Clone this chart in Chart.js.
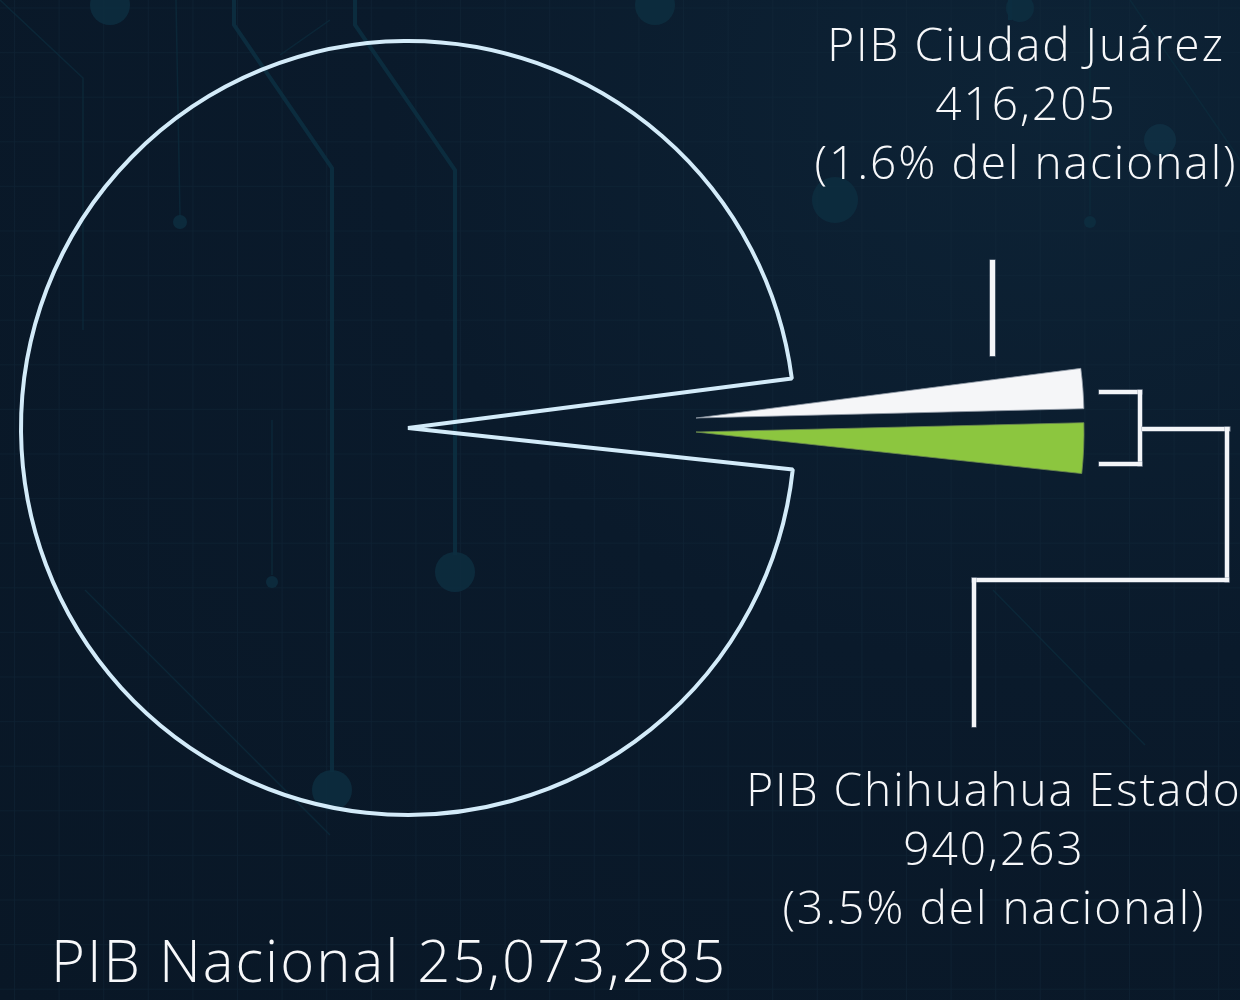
<!DOCTYPE html>
<html>
<head>
<meta charset="utf-8">
<script src="https://cdn.jsdelivr.net/npm/chart.js@4.4.0/dist/chart.umd.min.js"></script>
<style>
  html, body { margin:0; padding:0; width:1240px; height:1000px; overflow:hidden; background:#0a1929; }
  #stage { position:relative; width:1240px; height:1000px; overflow:hidden;
    background: radial-gradient(ellipse at 85% 10%, #0d2336 0%, #0a1a2b 45%, #091726 100%); }
  #bg { position:absolute; left:0; top:0; }
  canvas { position:absolute; }
  .lbl { position:absolute; color:#f7f8fa; font-family:"Open Sans", Lato, sans-serif; font-weight:300;
         text-align:center; white-space:nowrap; letter-spacing:2px; }
  .ln { position:absolute; background:#f3f5f8; box-shadow:0 0 0 0.6px rgba(150,160,172,0.7); }
</style>
</head>
<body>
<div id="stage">
  <svg id="bg" width="1240" height="1000" xmlns="http://www.w3.org/2000/svg">
    <defs>
      <pattern id="grid" x="14" y="7.5" width="44.6" height="44.6" patternUnits="userSpaceOnUse">
        <path d="M0 0 V44.6 M0 0 H44.6" stroke="#10283b" stroke-width="1.6" fill="none" opacity="0.55"/>
      </pattern>
    </defs>
    <rect width="1240" height="1000" fill="url(#grid)"/>
    <g stroke="#0c3143" fill="none" stroke-width="4" opacity="0.8">
      <path d="M234 0 V25 L332 168 V772"/>
      <path d="M355 0 V25 L455 170 V555"/>
      <path d="M1010 0 V20"/>
    </g>
    <g stroke="#0c2c3d" fill="none" stroke-width="1.5" opacity="0.7">
      <path d="M176 0 L180 216"/>
      <path d="M0 0 L83 78 V330"/>
      <path d="M1090 0 V215"/>
      <path d="M272 420 V575"/>
      <path d="M85 590 L330 835"/>
      <path d="M993 590 L1145 745"/>
      <path d="M1130 0 L1240 160"/>
      <path d="M280 55 L330 20"/>
    </g>
    <g fill="#0d2e40" opacity="0.85">
      <circle cx="110" cy="5" r="20"/>
      <circle cx="332" cy="790" r="20"/>
      <circle cx="455" cy="572" r="20"/>
      <circle cx="655" cy="5" r="20"/>
      <circle cx="835" cy="200" r="23"/>
      <circle cx="180" cy="222" r="7"/>
      <circle cx="272" cy="582" r="6"/>
      <circle cx="1090" cy="222" r="6"/>
      <circle cx="1020" cy="8" r="14"/>
    </g>
    <circle cx="1160" cy="140" r="16" fill="#12394d" opacity="0.5"/>
  </svg>

  <canvas id="mainPie" width="1240" height="1000" style="left:0;top:0;width:1240px;height:1000px;"></canvas>
  <canvas id="wedgeJuarez" width="800" height="800" style="left:296px;top:18px;width:800px;height:800px;"></canvas>
  <canvas id="wedgeChih" width="800" height="800" style="left:296px;top:32px;width:800px;height:800px;"></canvas>

  <!-- leader lines / bracket -->
  <div class="ln" style="left:990px;top:260px;width:5px;height:96px;"></div>
  <div class="ln" style="left:1099px;top:390px;width:43px;height:4px;"></div>
  <div class="ln" style="left:1138px;top:390px;width:4px;height:76px;"></div>
  <div class="ln" style="left:1099px;top:462px;width:43px;height:4px;"></div>
  <div class="ln" style="left:1142px;top:427px;width:88px;height:4px;"></div>
  <div class="ln" style="left:1225px;top:427px;width:4px;height:155px;"></div>
  <div class="ln" style="left:972px;top:578px;width:257px;height:4px;"></div>
  <div class="ln" style="left:972px;top:578px;width:4px;height:149px;"></div>

  <div id="lblJuarez" class="lbl" style="left:776px;width:500px;top:14px;font-size:46px;line-height:59px;"></div>
  <div id="lblChih" class="lbl" style="left:744px;width:500px;top:759px;font-size:46px;line-height:59px;"></div>
  <div id="lblNac" class="lbl" style="left:51px;top:929px;font-size:58px;line-height:62px;text-align:left;"></div>
</div>

<script>
// ---- Data ----
const categories = ['PIB Nacional', 'PIB Chihuahua Estado', 'PIB Ciudad Juárez'];
const pibValues  = [25073285, 940263, 416205];
const pctLabels  = ['', '3.5%', '1.6%'];

// ---- derived ----
const nationalRest = pibValues[0] - pibValues[1];
const chihRest = pibValues[1] - pibValues[2];
const shareChih = pibValues[1] / pibValues[0];
const centerAngle = -0.6;                     // direction of exploded slice (deg)
const rotation = centerAngle + 90 - 180 * shareChih;
const fmt = v => v.toLocaleString('en-US');

document.getElementById('lblJuarez').innerHTML =
  categories[2] + '<br>' + fmt(pibValues[2]) + '<br>(' + pctLabels[2] + ' del nacional)';
document.getElementById('lblChih').innerHTML =
  categories[1] + '<br>' + fmt(pibValues[1]) + '<br>(' + pctLabels[1] + ' del nacional)';
document.getElementById('lblNac').textContent = categories[0] + ' ' + fmt(pibValues[0]);

const clear = 'rgba(0,0,0,0)';
const baseOpts = {
  responsive: false,
  animation: false,
  events: [],
  rotation: rotation,
  plugins: { legend: { display: false }, tooltip: { enabled: false } }
};

// National pie (outline, with Chihuahua slice removed)
new Chart(document.getElementById('mainPie'), {
  type: 'pie',
  data: {
    labels: ['Chihuahua', 'Resto nacional'],
    datasets: [{
      data: [pibValues[1], nationalRest],
      backgroundColor: [clear, clear],
      borderColor: [clear, '#d3ebf9'],
      borderWidth: [0, 4],
      clip: false
    }]
  },
  options: Object.assign({}, baseOpts, {
    radius: 387,
    layout: { padding: { left: 0, top: 0, right: 424, bottom: 144 } }
  })
});

function wedge(id, colors, borders) {
  new Chart(document.getElementById(id), {
    type: 'pie',
    data: {
      labels: ['Ciudad Juárez', 'Resto Chihuahua', 'Resto nacional'],
      datasets: [{
        data: [pibValues[2], chihRest, nationalRest],
        backgroundColor: colors,
        borderColor: borders,
        borderWidth: [1, 1, 0],
        clip: false
      }]
    },
    options: Object.assign({}, baseOpts, { radius: 388, layout: { padding: 0 } })
  });
}
wedge('wedgeJuarez', ['#f5f6f8', clear, clear], ['rgba(140,150,162,0.8)', clear, clear]);
wedge('wedgeChih', [clear, '#8cc63f', clear], [clear, 'rgba(110,140,80,0.8)', clear]);
</script>
</body>
</html>
